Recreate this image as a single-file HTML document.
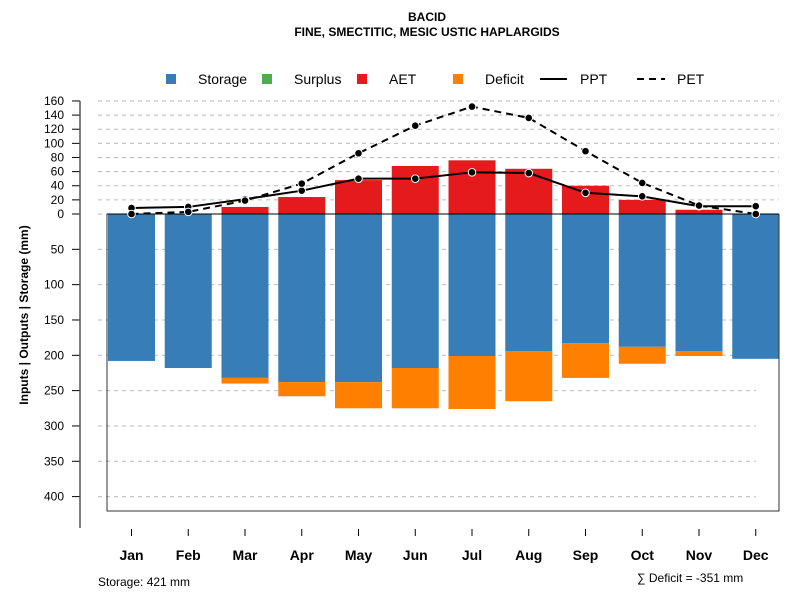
<!DOCTYPE html>
<html><head><meta charset="utf-8"><style>
body{margin:0;background:#fff;font-family:"Liberation Sans",Arial,sans-serif}
svg text{font-family:"Liberation Sans",Arial,sans-serif}
</style></head><body>
<svg id="chart" width="800" height="600" xmlns="http://www.w3.org/2000/svg">
<text x="427" y="21" text-anchor="middle" font-size="12" font-weight="bold">BACID</text>
<text x="427" y="36" text-anchor="middle" font-size="12" font-weight="bold">FINE, SMECTITIC, MESIC USTIC HAPLARGIDS</text>
<g id="legend" font-size="14">
<rect x="166" y="74" width="10" height="10" fill="#377eb8"/>
<text x="198" y="84">Storage</text>
<rect x="262" y="74" width="10" height="10" fill="#4daf4a"/>
<text x="294" y="84">Surplus</text>
<rect x="357" y="74" width="10" height="10" fill="#e41a1c"/>
<text x="389" y="84">AET</text>
<rect x="453" y="74" width="10" height="10" fill="#ff7f00"/>
<text x="485" y="84">Deficit</text>
<line x1="540" y1="79" x2="567" y2="79" stroke="#000" stroke-width="2"/>
<text x="580" y="84">PPT</text>
<line x1="637" y1="79" x2="665" y2="79" stroke="#000" stroke-width="2" stroke-dasharray="7,5"/>
<text x="677" y="84">PET</text>
</g>
<text transform="translate(28,315) rotate(-90)" text-anchor="middle" font-size="12" font-weight="bold">Inputs | Outputs | Storage     (mm)</text>
<text x="98" y="586" font-size="12">Storage: 421 mm</text>
<text x="637" y="582" font-size="12">∑ Deficit = -351 mm</text>
<g id="plot"></g>
</svg>
<script>
const months=["Jan","Feb","Mar","Apr","May","Jun","Jul","Aug","Sep","Oct","Nov","Dec"];
const storage=[208,218,232,238,238,218,201,194,183,188,194,205];
const deficit=[0,0,8,20,37,57,75,71,49,24,7,0];
const surplus=[0,0,0,0,0,0,0,0,0,0,0,0];
const aet=[0,0,10,24,48,68,76,64,40,20,6,0];
const ppt=[8.5,10,21,33,50,50,59,58,30,25,11,11];
const pet=[0,3,19,43,86,125,152,136,89,44,12,0];
const posTicks=[0,20,40,60,80,100,120,140,160];
const negTicks=[50,100,150,200,250,300,350,400];

const NS="http://www.w3.org/2000/svg";
const g=document.getElementById('plot');
const y0=214, k=0.7065;
const yUp=v=>y0-v*k, yDown=v=>y0+v*k;
const xC=i=>131.5+i*56.75;
const bw=47;
function el(t,a){const e=document.createElementNS(NS,t);for(const n in a)e.setAttribute(n,a[n]);g.appendChild(e);return e;}
// grid + ticks
posTicks.forEach(t=>{const y=yUp(t);
 const l=el('line',{x1:98,x2:779,y1:y,y2:y,stroke:'#bbb','stroke-dasharray':'4,4'});
 
 
 const tk=el('line',{x1:72,x2:80,y1:y,y2:y,stroke:'#000'});
 
 
 const tx=el('text',{x:64,y:y+4,'text-anchor':'end','font-size':12});tx.textContent=t;
 
 
});
negTicks.forEach(t=>{const y=yDown(t);
 const l=el('line',{x1:98,x2:756,y1:y,y2:y,stroke:'#bbb','stroke-dasharray':'4,4'});
 
 
 const tk=el('line',{x1:72,x2:80,y1:y,y2:y,stroke:'#000'});
 
 
 const tx=el('text',{x:64,y:y+4,'text-anchor':'end','font-size':12});tx.textContent=t;
 
 
});
const ax=el('line',{x1:80,x2:80,y1:yUp(160),y2:528,stroke:'#555','stroke-width':1.5});


// bars
months.forEach((m,i)=>{const x=xC(i)-bw/2;
 const s=el('rect',{x:x,y:y0,width:bw,height:storage[i]*k,fill:'#377eb8'});
 
 
 if(deficit[i]>0){const d=el('rect',{x:x,y:yDown(storage[i]),width:bw,height:deficit[i]*k,fill:'#ff7f00'});
  
  }
 if(aet[i]>0){const a=el('rect',{x:x,y:yUp(aet[i]),width:bw,height:aet[i]*k,fill:'#e41a1c'});
  
  }
 if(surplus[i]>0){const u=el('rect',{x:x,y:yUp(aet[i]+surplus[i]),width:bw,height:surplus[i]*k,fill:'#4daf4a'});
  
  }
 const tk=el('line',{x1:xC(i),x2:xC(i),y1:529,y2:536,stroke:'#000'});
 
 
 const t=el('text',{x:xC(i),y:560,'text-anchor':'middle','font-size':14,'font-weight':'bold'});t.textContent=m;
 
 
});
// box
const bx=el('path',{d:'M107,'+y0+' V511 H779 V'+y0,fill:'none',stroke:'#333'});


const zl=el('line',{x1:107,x2:779,y1:y0,y2:y0,stroke:'#000'});


// lines
function series(vals,name,dash){
 const pts=vals.map((v,i)=>xC(i)+','+yUp(v)).join(' ');
 const a={points:pts,fill:'none',stroke:'#000','stroke-width':2};if(dash)a['stroke-dasharray']='7,5';
 const p=el('polyline',a);
 
 
 vals.forEach((v,i)=>{const c=el('circle',{cx:xC(i),cy:yUp(v),r:3.8,fill:'#000',stroke:'#fff','stroke-width':1});
  
  });
}
series(ppt,'ppt',false);
series(pet,'pet',true);
</script>
</body></html>
